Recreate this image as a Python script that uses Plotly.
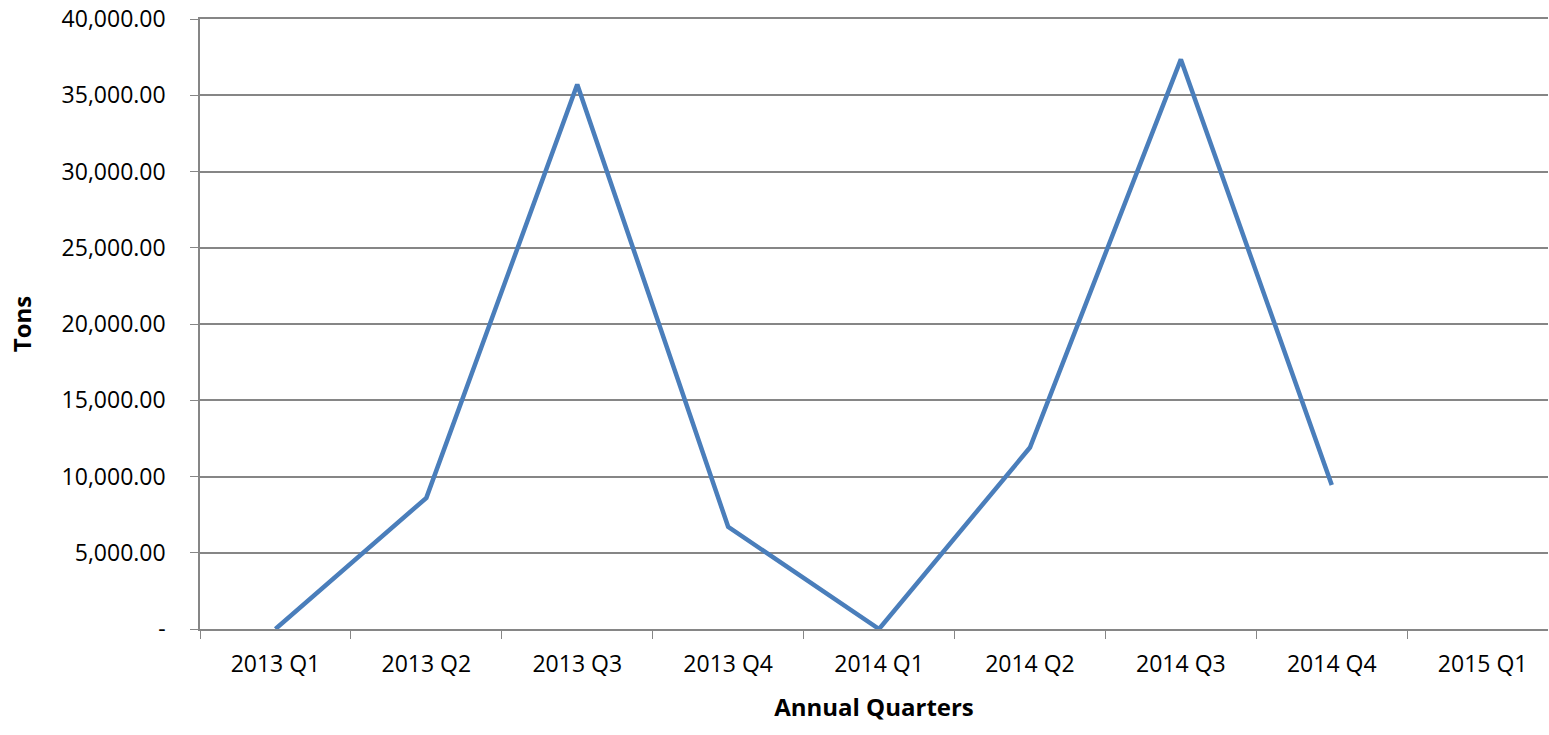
import plotly.graph_objects as go

quarters = ["2013 Q1", "2013 Q2", "2013 Q3", "2013 Q4", "2014 Q1",
            "2014 Q2", "2014 Q3", "2014 Q4", "2015 Q1"]
tons = [0, 8600, 35700, 6700, 0, 11900, 37350, 9450, None]

y_ticks = [0, 5000, 10000, 15000, 20000, 25000, 30000, 35000, 40000]
y_labels = ["-"] + [f"{v:,.2f}" for v in y_ticks[1:]]

font_family = "Open Sans, Noto Sans, Liberation Sans, sans-serif"

fig = go.Figure()
fig.add_trace(go.Scatter(
    x=quarters, y=tons, mode="lines",
    line=dict(color="#4A7EBB", width=4.5),
    connectgaps=False, cliponaxis=False, showlegend=False,
))

fig.update_layout(
    width=1549, height=735,
    margin=dict(l=200, r=1, t=19, b=106),
    paper_bgcolor="white", plot_bgcolor="white",
    font=dict(family=font_family, size=23, color="black"),
    xaxis=dict(
        type="category", range=[-0.5, 8.433], automargin=False,
        showgrid=False, showline=True, mirror=True,
        linecolor="#868686", linewidth=1.5,
        ticks="outside", tickson="boundaries", ticklen=8, tickcolor="#868686",
        tickfont=dict(size=23), ticklabelstandoff=14,
        title=dict(text="<b>Annual Quarters</b>", font=dict(size=24), standoff=21),
    ),
    yaxis=dict(
        range=[0, 40000], tickvals=y_ticks, ticktext=y_labels, automargin=False,
        showgrid=True, gridcolor="#868686", gridwidth=1.5,
        showline=True, linecolor="#868686", linewidth=1.5,
        ticks="outside", ticklen=8, tickcolor="#868686",
        tickfont=dict(size=23), zeroline=False,
        ticklabelstandoff=20, ticklabeloverflow="allow",
        title=dict(text="<b>Tons</b>", font=dict(size=24), standoff=23),
    ),
)

fig.write_html("out.html", config={"displayModeBar": False},
               post_script="document.body.style.margin='0';")
